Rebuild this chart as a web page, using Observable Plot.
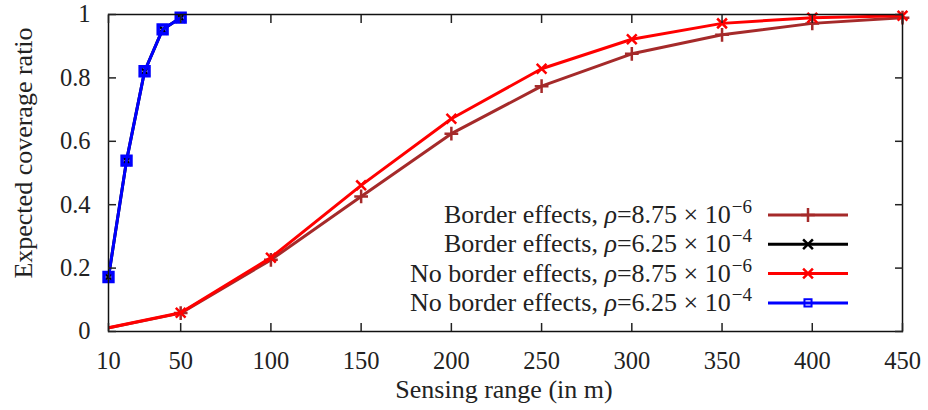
<!DOCTYPE html>
<html><head><meta charset="utf-8">
<script src="https://cdn.jsdelivr.net/npm/d3@7"></script>
<script src="https://cdn.jsdelivr.net/npm/@observablehq/plot@0.6"></script>
<style>
body{margin:0;background:#fff;}
#chart svg, #chart svg text{font-family:"Liberation Serif","Times New Roman","DejaVu Serif",serif !important;}
</style></head><body><div id="chart"></div>
<script>
// ---- data ----
const xTicks = [10, 50, 100, 150, 200, 250, 300, 350, 400, 450];
const yTicks = [0, 0.2, 0.4, 0.6, 0.8, 1];
const rangeLow = [0, 50, 100, 150, 200, 250, 300, 350, 400, 450];
const borderLow = [0.0, 0.058, 0.226, 0.426, 0.624, 0.774, 0.876, 0.936, 0.972, 0.99];
const noBorderLow = [0.0, 0.059, 0.233, 0.461, 0.671, 0.829, 0.922, 0.972, 0.99, 0.996];
const rangeHigh = [10, 20, 30, 40, 50];
const borderHigh = [0.172, 0.539, 0.821, 0.953, 0.99];
const noBorderHigh = [0.172, 0.539, 0.821, 0.953, 0.99];
const seriesNames = ["Border effects", "Border effects", "No border effects", "No border effects"];
const densities = ["8.75", "6.25", "8.75", "6.25"];
const exponents = ["−6", "−4", "−6", "−4"];
const colors = ["#a52a2a", "#000000", "#ff0000", "#0000ff"];
const symbols = ["plus", "times", "times", "square"];
const xLabel = "Sensing range (in m)";
const yLabel = "Expected coverage ratio";
const xDomain = [10, 450];

const seriesX = [rangeLow, rangeHigh, rangeLow, rangeHigh];
const seriesY = [borderLow, borderHigh, noBorderLow, noBorderHigh];
const series = seriesX.map((xs, i) => xs.map((x, j) => ({x, y: seriesY[i][j], s: i})));

const marks = [];
series.forEach((data, i) => {
  marks.push(Plot.line(data, {x: "x", y: "y", stroke: colors[i], strokeWidth: 3, clip: true}));
  marks.push(Plot.dot(data, {x: "x", y: "y", filter: d => d.x >= xDomain[0], symbol: () => symbols[i], stroke: colors[i],
    fill: "none", strokeWidth: i === 3 ? 3.5 : 2.5, r: i === 3 ? 5 : 4.5}));
});

const FONT = "'Liberation Serif', 'Times New Roman', serif";
const chart = Plot.plot({
  width: 928, height: 410,
  marginLeft: 108, marginRight: 26, marginTop: 14, marginBottom: 79,
  style: {fontFamily: FONT, fontSize: "24px", color: "#222", background: "#fff"},
  x: {domain: xDomain},
  y: {domain: [0, 1]},
  marks: [
    ...marks,
    Plot.frame({stroke: "#111", strokeWidth: 1.5}),
    Plot.axisX(xTicks, {anchor: "bottom", tickSize: 0, tickPadding: 20, label: null, fontSize: 24.5, tickFormat: d => String(d)}),
    Plot.axisX(xTicks, {anchor: "bottom", tickSize: -8, tickFormat: () => "", label: null, strokeWidth: 1.5}),
    Plot.axisX(xTicks, {anchor: "top", tickSize: -8, tickFormat: () => "", label: null, strokeWidth: 1.5}),
    Plot.axisY(yTicks, {anchor: "left", tickSize: 0, tickPadding: 18, label: null, fontSize: 24.5, tickFormat: d => String(d)}),
    Plot.axisY(yTicks, {anchor: "left", tickSize: -8, tickFormat: () => "", label: null, strokeWidth: 1.5}),
    Plot.axisY(yTicks, {anchor: "right", tickSize: -8, tickFormat: () => "", label: null, strokeWidth: 1.5})
  ]
});
document.getElementById("chart").appendChild(chart);

const svg = d3.select(chart);
// axis titles
svg.append("text").attr("x", 504).attr("y", 398).attr("text-anchor", "middle")
  .attr("font-size", 26).attr("fill", "#222").text(xLabel);
svg.append("text").attr("transform", "translate(32,153) rotate(-90)").attr("text-anchor", "middle")
  .attr("font-size", 26).attr("fill", "#222").text(yLabel);

// legend
const symMap = {plus: d3.symbolPlus, times: d3.symbolTimes, square: d3.symbolSquare2};
const lg = svg.append("g");
seriesNames.forEach((name, i) => {
  const yRow = 215 + i * 29.3;
  const t = lg.append("text").attr("x", 752).attr("y", yRow + 8).attr("text-anchor", "end")
    .attr("font-size", 26).attr("fill", "#222");
  t.append("tspan").text(name + ", ");
  t.append("tspan").attr("font-style", "italic").text("ρ");
  t.append("tspan").text("=" + densities[i] + " × 10");
  t.append("tspan").attr("font-size", 19).attr("dy", -10).attr("dx", 1).text(exponents[i]);
  lg.append("line").attr("x1", 768).attr("x2", 848).attr("y1", yRow).attr("y2", yRow)
    .attr("stroke", colors[i]).attr("stroke-width", 3);
  lg.append("path").attr("transform", `translate(808,${yRow})`)
    .attr("d", d3.symbol(symMap[symbols[i]], 64)())
    .attr("fill", "none").attr("stroke", colors[i]).attr("stroke-width", i === 3 ? 2 : 2.5);
});
svg.selectAll("text").style("font-family", FONT);
</script></body></html>
